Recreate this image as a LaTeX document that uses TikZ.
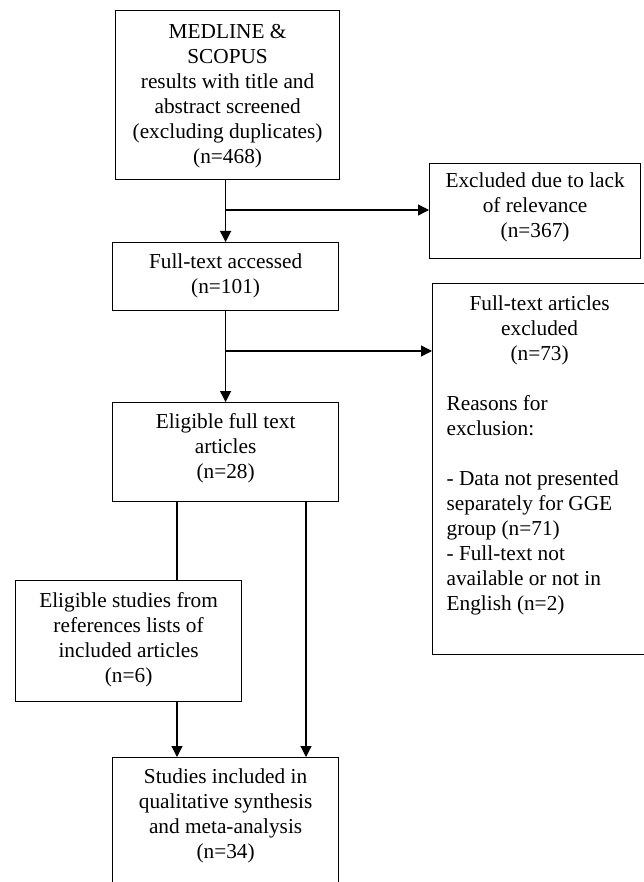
\documentclass[tikz,border=0pt]{standalone}
\usepackage{fontspec}
\setmainfont{Liberation Serif}
\usetikzlibrary{arrows.meta}

% box body: width, height, top padding, text (centred lines)
\newcommand{\fbody}[4]{\parbox[t][#2][t]{#1}{\vspace*{#3}\centering\strut #4\par}}

\begin{document}
\begin{tikzpicture}[
  x=1pt, y=-1pt,
  flow/.style={draw, line width=1.2pt, inner sep=0pt, anchor=north west,
               font=\fontsize{21.3pt}{25pt}\selectfont},
  link/.style={line width=1.2pt},
  arr/.style={link, -{Triangle[length=11pt, width=11pt]}}
]
\useasboundingbox (0,0) rectangle (644,882);
\clip (0,0) rectangle (644,882);

% main column
\node[flow] (db) at (115,10)
  {\fbody{224pt}{169pt}{10pt}{MEDLINE \&\\ SCOPUS\\ results with title and\\ abstract screened\\ (excluding duplicates)\\ (n=468)}};
\node[flow] (ft) at (112,242)
  {\fbody{226pt}{68pt}{8.5pt}{Full-text accessed\\ (n=101)}};
\node[flow] (el) at (112,402)
  {\fbody{226pt}{99pt}{8.5pt}{Eligible full text\\ articles\\ (n=28)}};
\node[flow] (es) at (15,580)
  {\fbody{226pt}{121pt}{9.5pt}{Eligible studies from\\ references lists of\\ included articles\\ (n=6)}};
\node[flow] (st) at (112,757)
  {\fbody{226pt}{150pt}{8.5pt}{Studies included in\\ qualitative synthesis\\ and meta-analysis\\ (n=34)}};

% exclusion boxes
\node[flow] (ex) at (429,163)
  {\fbody{211pt}{95pt}{6.5pt}{Excluded due to lack\\ of relevance\\ (n=367)}};
\node[flow] (fx) at (432,283)
  {\parbox[t][371pt][t]{214pt}{\vspace*{9.5pt}\centering\strut
     Full-text articles\\ excluded\\ (n=73)\\ \mbox{}\par
     \raggedright\leftskip=14pt
     Reasons for\\ exclusion:\\ \mbox{}\\ - Data not presented\\ separately for GGE\\
     group (n=71)\\ - Full-text not\\ available or not in\\ English (n=2)\par}};

% connectors
\coordinate (j1) at (ft.north |- 0,210);
\draw[arr] (ft.north |- db.south) -- (ft.north);
\draw[arr] (j1) -- (ex.west |- j1);

\coordinate (j2) at (el.north |- 0,351);
\draw[arr] (ft.south) -- (el.north);
\draw[arr] (j2) -- (fx.west |- j2);

\coordinate (s1) at ([xshift=65pt]el.south west);
\coordinate (s2) at ([xshift=194pt]el.south west);
\draw[link] (s1) -- (s1 |- es.north);
\draw[arr] (s1 |- es.south) -- (s1 |- st.north);
\draw[arr] (s2) -- (s2 |- st.north);
\end{tikzpicture}
\end{document}
